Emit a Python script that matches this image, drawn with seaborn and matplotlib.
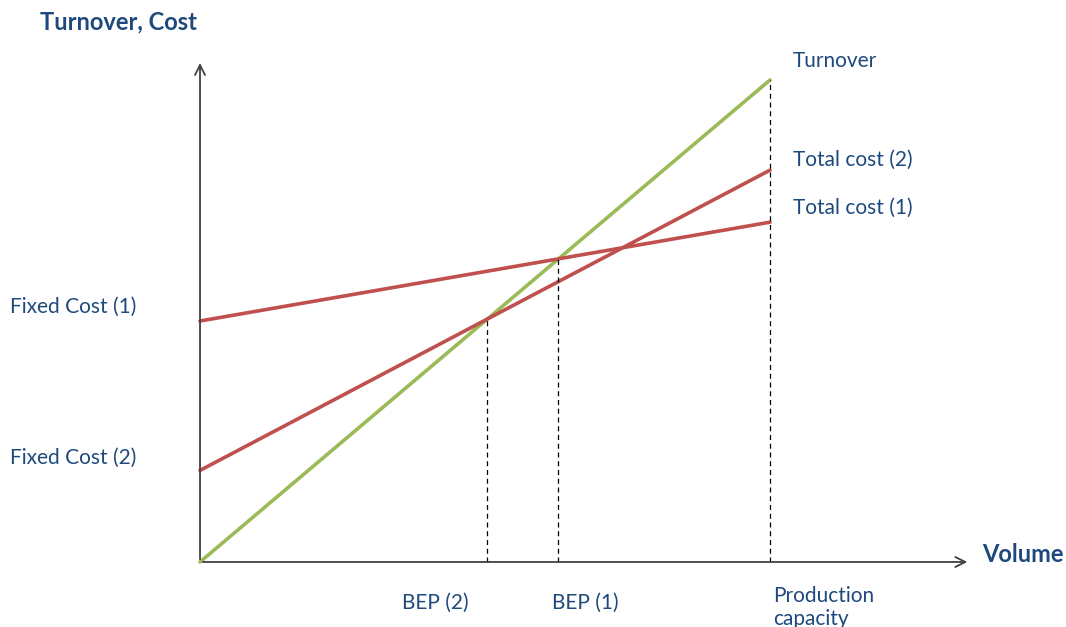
import numpy as np
import pandas as pd
import matplotlib
matplotlib.use("Agg")
import matplotlib.pyplot as plt
import seaborn as sns

# Break-even chart data (volume scaled so production capacity = 100)
volume = [0, 100]
turnover = [0, 100]
total_cost_1 = [50, 70.5]
total_cost_2 = [19, 81.3]
capacity = volume[-1]

# Break-even points: where turnover meets total cost
def bep(tc):
    slope_t = (turnover[1] - turnover[0]) / (volume[1] - volume[0])
    slope_c = (tc[1] - tc[0]) / (volume[1] - volume[0])
    x = (tc[0] - turnover[0]) / (slope_t - slope_c)
    return x, turnover[0] + slope_t * x

bep1 = bep(total_cost_1)
bep2 = bep(total_cost_2)

df = pd.DataFrame({
    "Volume": volume * 3,
    "Value": turnover + total_cost_1 + total_cost_2,
    "Series": ["Turnover"] * 2 + ["Total cost (1)"] * 2 + ["Total cost (2)"] * 2,
})

sns.set_style("white")
plt.rcParams["font.family"] = ["Lato", "DejaVu Sans"]

text_col = "#1F497D"
green = "#9BBB59"
red = "#C0504D"

fig = plt.figure(figsize=(10.66, 6.27), dpi=100)
ax = fig.add_axes([0, 0, 1, 1])
ax.set_xlim(-35.09, 151.93)
ax.set_ylim(-13.49, 116.6)
ax.axis("off")

sns.lineplot(data=df, x="Volume", y="Value", hue="Series",
             palette={"Turnover": green, "Total cost (1)": red, "Total cost (2)": red},
             linewidth=2.6, legend=False, ax=ax)

# axes with arrows
arrow = dict(arrowstyle="->", color="#404040", lw=1.3, mutation_scale=18)
ax.annotate("", xy=(0, 104.1), xytext=(0, 0), arrowprops=arrow)
ax.annotate("", xy=(135.1, 0), xytext=(0, 0), arrowprops=arrow)

# dashed guides
for x, y in [bep2, bep1, (capacity, turnover[-1])]:
    ax.plot([x, x], [0, y], color="black", lw=0.9, ls=(0, (4, 3)))

fs = 15
ax.text(-28.1, 112.0, "Turnover, Cost", color=text_col, fontsize=17,
        fontweight="bold", va="center", ha="left")
ax.text(137.2, 1.45, "Volume", color=text_col, fontsize=17,
        fontweight="bold", va="center", ha="left")

ax.text(104, 103.9, "Turnover", color=text_col, fontsize=fs, va="center")
ax.text(104, 83.4, "Total cost (2)", color=text_col, fontsize=fs, va="center")
ax.text(104, 73.4, "Total cost (1)", color=text_col, fontsize=fs, va="center")

ax.text(-33.3, 52.9, "Fixed Cost (1)", color=text_col, fontsize=fs, va="center")
ax.text(-33.3, 21.6, "Fixed Cost (2)", color=text_col, fontsize=fs, va="center")

ax.text(41.2, -8.5, "BEP (2)", color=text_col, fontsize=fs, va="center", ha="center")
ax.text(61.75, -8.5, "BEP (1)", color=text_col, fontsize=fs, va="center", ha="left")
ax.text(capacity + 0.5, -4.9, "Production\ncapacity", color=text_col, fontsize=fs,
        va="top", ha="left", linespacing=1.2)

fig.savefig("out.png", dpi=100)
